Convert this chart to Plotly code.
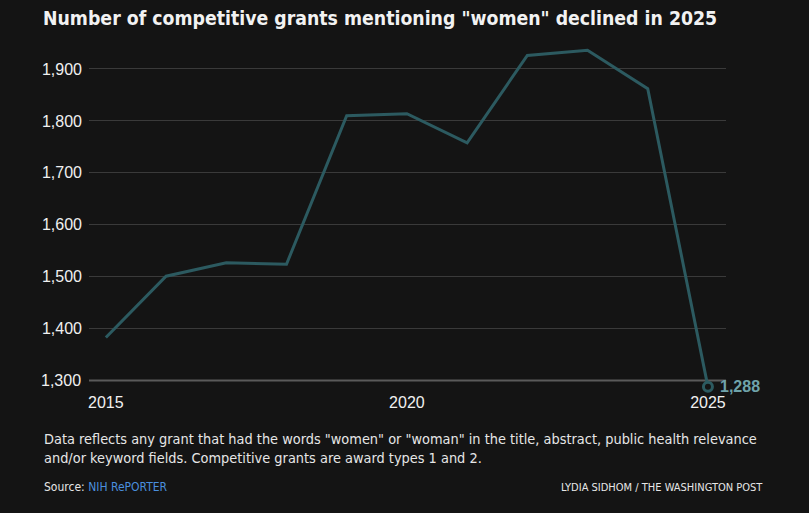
import plotly.graph_objects as go

years = [2015, 2016, 2017, 2018, 2019, 2020, 2021, 2022, 2023, 2024, 2025]
grants = [1383, 1501, 1527, 1524, 1810, 1814, 1758, 1926, 1936, 1862, 1288]
y_ticks = [1300, 1400, 1500, 1600, 1700, 1800, 1900]
x_ticks = [2015, 2020, 2025]

title = 'Number of competitive grants mentioning "women" declined in 2025'
note = ('Data reflects any grant that had the words "women" or "woman" in the title, abstract, public health relevance'
        '<br>and/or keyword fields. Competitive grants are award types 1 and 2.')
source = 'Source: <span style="color:#4a8fdd">NIH RePORTER</span>'
credit = 'LYDIA SIDHOM / THE WASHINGTON POST'

BG = '#141414'
LINE = '#2c5a60'
LABEL = '#6fa3aa'
COND = 'DejaVu Sans Condensed'

W, H = 809, 513
PL, PR, PT, PB = 89, 726, 42.5, 391.4
PW, PH = PR - PL, PB - PT

def py(ypix):
    return (PB - ypix) / PH

def px(xpix):
    return (xpix - PL) / PW

fig = go.Figure()
fig.add_trace(go.Scatter(
    x=years, y=grants, mode='lines',
    line=dict(color=LINE, width=3),
    cliponaxis=False, hoverinfo='skip', showlegend=False))
fig.add_trace(go.Scatter(
    x=[years[-1]], y=[grants[-1]], mode='markers',
    marker=dict(size=9, color=BG, line=dict(color=LINE, width=3)),
    cliponaxis=False, hoverinfo='skip', showlegend=False))
fig.add_annotation(text=f'<b>{grants[-1]:,}</b>', x=years[-1], y=grants[-1],
                   xanchor='left', yanchor='middle', xshift=10, showarrow=False,
                   font=dict(family='Liberation Sans', size=16, color=LABEL))

fig.add_shape(type='line', xref='paper', yref='y', x0=0, x1=1, y0=y_ticks[0], y1=y_ticks[0],
              line=dict(color='#5a5a5a', width=2), layer='below')

fig.update_layout(
    width=W, height=H,
    paper_bgcolor=BG, plot_bgcolor=BG,
    margin=dict(l=PL, r=W - PR, t=PT, b=H - PB),
    title=dict(text=f'<b>{title}</b>', x=43 / W, xref='container', xanchor='left',
               y=1 - 18 / H, yanchor='middle', pad=dict(l=0),
               font=dict(family=COND, size=19.3, color='#f2f2f2')),
    xaxis=dict(range=[2014.72, 2025.3], tickvals=x_ticks, ticktext=[str(t) for t in x_ticks],
               showgrid=False, zeroline=False, showline=False,
               ticks='', tickfont=dict(family='Liberation Sans', size=16, color='#f0f0f0')),
    yaxis=dict(range=[1280, 1950], tickvals=y_ticks[1:], ticktext=[f'{t:,}' for t in y_ticks[1:]],
               showgrid=True, gridcolor='#3a3a3a', gridwidth=1, zeroline=False,
               ticks='', ticklabelstandoff=6,
               tickfont=dict(family='Liberation Sans', size=16, color='#f0f0f0')),
    font=dict(family=COND, color='#e8e8e8'),
)

fig.add_annotation(text=f'{y_ticks[0]:,}', xref='paper', yref='y', x=0, y=y_ticks[0],
                   xanchor='right', yanchor='middle', xshift=-6, showarrow=False,
                   font=dict(family='Liberation Sans', size=16, color='#f0f0f0'))

fig.add_annotation(text=note, xref='paper', yref='paper', x=px(41.5), y=py(429),
                   xanchor='left', yanchor='top', align='left', showarrow=False,
                   font=dict(family=COND, size=14.4, color='#e6e6e6'))
fig.add_annotation(text=source, xref='paper', yref='paper', x=px(41.5), y=py(488),
                   xanchor='left', yanchor='middle', align='left', showarrow=False,
                   font=dict(family=COND, size=12, color='#e6e6e6'))
fig.add_annotation(text=credit, xref='paper', yref='paper', x=px(765), y=py(488),
                   xanchor='right', yanchor='middle', align='right', showarrow=False,
                   font=dict(family=COND, size=11, color='#e6e6e6'))

fig.write_html('out.html', config={'displayModeBar': False},
               post_script="document.body.style.margin='0';document.body.style.background='#141414';")
